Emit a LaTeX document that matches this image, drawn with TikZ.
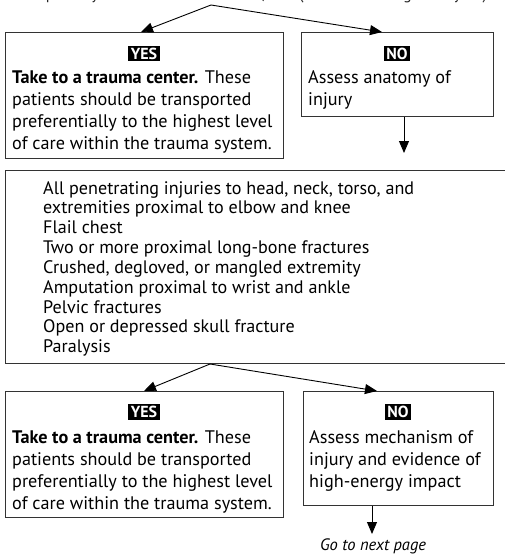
\documentclass[tikz,border=0pt]{standalone}
\usepackage{fontspec}
\setmainfont{PT Sans}
\usetikzlibrary{arrows.meta}
\begin{document}
\begin{tikzpicture}[x=1pt,y=-1pt,
  box/.style={draw=black!80,line width=1pt,inner sep=0pt,anchor=north west},
  lab/.style={fill=black,text=white,font=\fontsize{16}{16}\selectfont\bfseries,inner xsep=2.5pt,inner ysep=2pt},
  txt/.style={anchor=base west,align=left,inner sep=0pt,font=\fontsize{18.2}{22.3}\selectfont},
  lst/.style={anchor=base west,align=left,inner sep=0pt,font=\fontsize{18.1}{19.85}\selectfont},
  arr/.style={-{Triangle[length=12pt,width=10pt]},line width=0.9pt}]
\useasboundingbox (0,0) rectangle (505,554);
\clip (0,0) rectangle (505,554);
% cut-off question at the top (base anchor = baseline of the last line)
\node[anchor=base west,inner sep=0pt,font=\fontsize{16}{16}\selectfont,text=black!85] (q1) at (22,-0.5) {Respiratory rate <10 or >29 breaths/min (<20 in infant aged <1 year)};
\coordinate (q1top) at (211,5);
% first row
\node[box,minimum width=278,minimum height=126] (yes1) at (5,32) {};
\node[box,minimum width=192,minimum height=84] (no1) at (301,32) {};
\node[lab] (yl1) at (144,53.5) {YES};
\node[lab] (nl1) at (397,53.5) {NO};
\node[txt] (yt1) at (12,149.9) {\textbf{Take to a trauma center.} These\\patients should be transported\\preferentially to the highest level\\of care within the trauma system.};
\node[txt] (nt1) at (308,105.3) {Assess anatomy of\\injury};
\draw[arr] (q1top) -- ([xshift=136pt]yes1.north west);
\draw[arr] (q1top) -- ([xshift=81pt]no1.north west);
\draw[arr] ([xshift=103pt]no1.south west) -- ++(0,36);
% list box
\node[box,minimum width=520,minimum height=193] (big) at (5,170) {};
\node[lst] (list) at (43,352.8) {All penetrating injuries to head, neck, torso, and\\extremities proximal to elbow and knee\\Flail chest\\Two or more proximal long-bone fractures\\Crushed, degloved, or mangled extremity\\Amputation proximal to wrist and ankle\\Pelvic fractures\\Open or depressed skull fracture\\Paralysis};
% second row
\node[box,minimum width=278,minimum height=126] (yes2) at (5,391) {};
\node[box,minimum width=190,minimum height=114] (no2) at (303,391) {};
\node[lab] (yl2) at (144,412) {YES};
\node[lab] (nl2) at (398,412) {NO};
\node[txt] (yt2) at (12,509.9) {\textbf{Take to a trauma center.} These\\patients should be transported\\preferentially to the highest level\\of care within the trauma system.};
\node[txt] (nt2) at (309,487.6) {Assess mechanism of\\injury and evidence of\\high-energy impact};
\draw[arr] ([xshift=205pt]big.south west) -- ([xshift=139pt]yes2.north west);
\draw[arr] ([xshift=205pt]big.south west) -- ([xshift=74pt]no2.north west);
\draw[arr] ([xshift=69pt]no2.south west) -- ++(0,28);
\node[anchor=base,inner sep=0pt,font=\fontsize{16.5}{16.5}\selectfont\itshape] (go) at (373,550) {Go to next page};
\end{tikzpicture}
\end{document}
